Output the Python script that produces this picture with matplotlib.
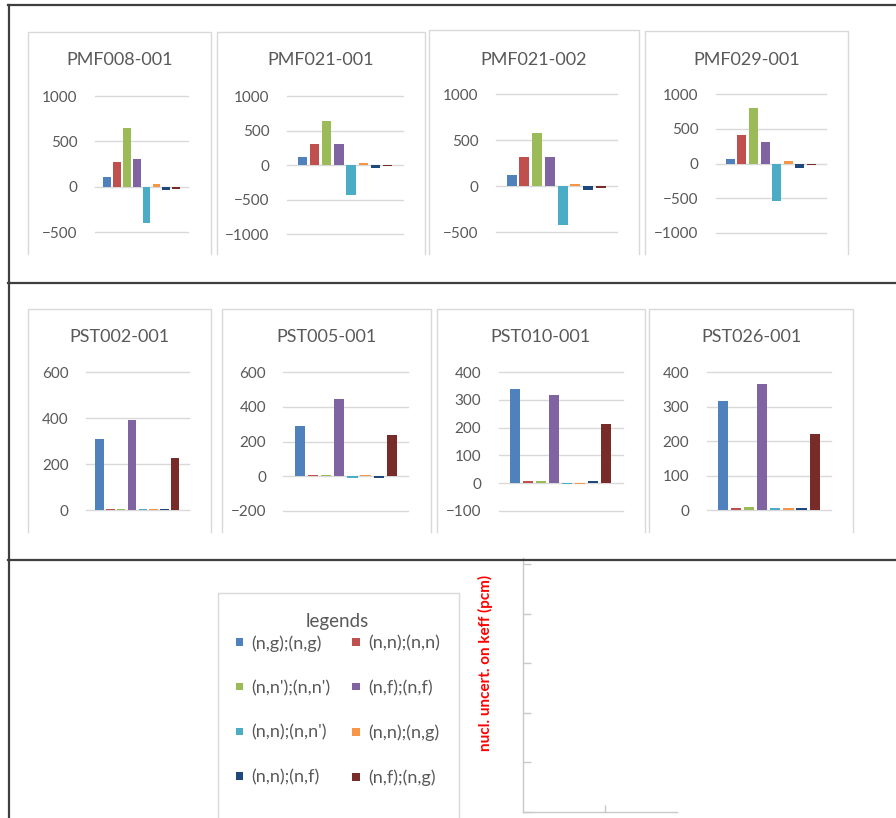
import matplotlib
matplotlib.use("Agg")
import matplotlib.pyplot as plt
from matplotlib.lines import Line2D

plt.rcParams['font.family'] = ['Lato', 'DejaVu Sans']

# ---- data -------------------------------------------------------------
series = ["(n,g);(n,g)", "(n,n);(n,n)", "(n,n');(n,n')", "(n,f);(n,f)",
          "(n,n);(n,n')", "(n,n);(n,g)", "(n,n);(n,f)", "(n,f);(n,g)"]
colors = ["#4F81BD", "#C0504D", "#9BBB59", "#8064A2",
          "#4BACC6", "#F79646", "#1F497D", "#772C2A"]

cases = ["PMF008-001", "PMF021-001", "PMF021-002", "PMF029-001",
         "PST002-001", "PST005-001", "PST010-001", "PST026-001"]

pmf008_001 = [106, 275, 645, 308, -403, 30, -37, -22]
pmf021_001 = [116, 312, 640, 312, -434, 29, -39, -19]
pmf021_002 = [123, 323, 584, 323, -420, 25, -44, -15]
pmf029_001 = [68, 405, 800, 313, -539, 29, -63, -19]
pst002_001 = [310, 6, 6, 391, 5, 5, 6, 225]
pst005_001 = [287, 6, 5, 447, -13, 5, -12, 235]
pst010_001 = [340, 6, 6, 319, -4, -4, 6, 214]
pst026_001 = [318, 6, 9, 366, 5, 5, 5, 220]

ticks_pmf008 = [-500, 0, 500, 1000]
ticks_pmf021_1 = [-1000, -500, 0, 500, 1000]
ticks_pmf021_2 = [-500, 0, 500, 1000]
ticks_pmf029 = [-1000, -500, 0, 500, 1000]
ticks_pst002 = [0, 200, 400, 600]
ticks_pst005 = [-200, 0, 200, 400, 600]
ticks_pst010 = [-100, 0, 100, 200, 300, 400]
ticks_pst026 = [0, 100, 200, 300, 400]

values = [pmf008_001, pmf021_001, pmf021_002, pmf029_001,
          pst002_001, pst005_001, pst010_001, pst026_001]
yticks = [ticks_pmf008, ticks_pmf021_1, ticks_pmf021_2, ticks_pmf029,
          ticks_pst002, ticks_pst005, ticks_pst010, ticks_pst026]

# ---- layout (pixels, origin top-left) ---------------------------------
W, H = 896, 818
fig = plt.figure(figsize=(W / 100, H / 100), dpi=100)


def fx(x):
    return x / W


def fy(y):
    return 1 - y / H


def axes_px(x0, y0, x1, y1):
    return fig.add_axes([fx(x0), fy(y1), (x1 - x0) / W, (y1 - y0) / H])


def fig_line(xs, ys, **kw):
    fig.add_artist(Line2D([fx(v) for v in xs], [fy(v) for v in ys],
                          transform=fig.transFigure, **kw))


TXT = "#595959"
GRID = "#D9D9D9"

# chart boxes: (left, right, top, bottom)
boxes = [(28, 211, 32, 254), (217, 425, 32, 254), (429, 639, 30, 254), (645, 848, 31, 254),
         (28, 211, 309, 532), (221.7, 430.7, 309, 532), (436.7, 645, 309, 532), (649.3, 853.3, 309, 532)]
# plot areas: (left, top, right, bottom)
areas = [(95, 96, 188.3, 232), (287, 96, 403, 234.3), (495.7, 94.3, 616.7, 232.3), (715.7, 94.3, 826, 232.7),
         (86, 372.3, 188.7, 510), (283.3, 372.3, 408.3, 510.7), (498.7, 372.3, 622.7, 510.7), (706.7, 372.3, 831, 510)]
title_y = [60, 60, 60, 60, 337, 337, 337, 337]

first_ax = None
for k in range(8):
    l, r, t, b = boxes[k]
    fig_line([l, l, r, r], [b, t, t, b], color=GRID, lw=1.0)
    fig.text(fx((l + r) / 2), fy(title_y[k]), cases[k], ha='center', va='center',
             fontsize=13, color=TXT)

    ax = axes_px(*areas[k])
    for i in range(8):
        ax.bar(i, values[k][i], width=0.78, color=colors[i], label=series[i], zorder=3)
    ax.set_xlim(-1.25, 8.25)
    ax.set_ylim(yticks[k][0], yticks[k][-1])
    ax.set_yticks(yticks[k])
    ax.set_xticks([])
    ax.yaxis.grid(True, color=GRID, lw=1.0)
    for gl in ax.get_ygridlines():
        gl.set_clip_on(False)
    for s in ax.spines.values():
        s.set_visible(False)
    ax.tick_params(axis='y', length=0, pad=12.5, labelsize=11, labelcolor=TXT)
    ax.patch.set_alpha(0)
    if first_ax is None:
        first_ax = ax

# outer frame and row separators
for y in (4.5, 282.7, 560):
    fig_line([8, W], [y, y], color="#3F3F3F", lw=1.6)
fig_line([9, 9], [4.5, H], color="#3F3F3F", lw=1.6)

# legend block
fig_line([218.3, 218.3, 459.3, 459.3], [H, 593.3, 593.3, H], color=GRID, lw=1.0)
fig.text(fx(337.7), fy(621.7), "legends", ha='center', va='center',
         fontsize=13.5, color=TXT)
handles, labels = first_ax.get_legend_handles_labels()
order = [0, 2, 4, 6, 1, 3, 5, 7]
leg = fig.legend([handles[i] for i in order], [labels[i] for i in order],
                 ncol=2, loc='upper left', bbox_to_anchor=(fx(235.7), fy(635)),
                 frameon=False, borderpad=0, borderaxespad=0,
                 fontsize=13, handlelength=0.415, handleheight=0.262, handletextpad=0.47,
                 columnspacing=1.2, labelspacing=1.58, labelcolor=TXT)

fig.text(fx(485), fy(663), "nucl. uncert. on keff (pcm)", rotation=90,
         ha='center', va='center', color='#FF0000', fontweight='bold', fontsize=11.0)

# empty value axis at the lower right
axe = axes_px(523.3, 558, 677.3, 811.7)
axe.set_xlim(0, 1.88)
axe.set_ylim(0, 5.13)
axe.set_xticks([1])
axe.set_yticks(range(6))
axe.set_xticklabels([])
axe.set_yticklabels([])
for side in ('top', 'right'):
    axe.spines[side].set_visible(False)
for side in ('left', 'bottom'):
    axe.spines[side].set_color("#C8C8C8")
    axe.spines[side].set_linewidth(1.0)
axe.tick_params(axis='both', direction='in', color="#C8C8C8", width=1.0)
axe.tick_params(axis='y', length=6)
axe.tick_params(axis='x', length=5)
axe.patch.set_alpha(0)

fig.savefig("out.png", dpi=100)
